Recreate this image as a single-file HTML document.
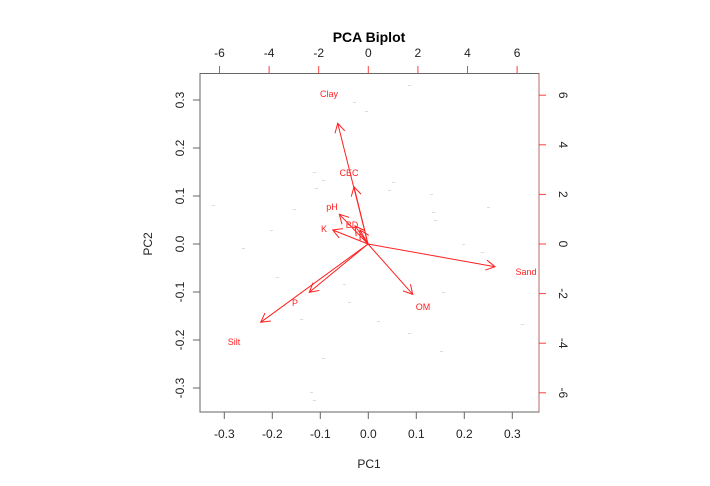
<!DOCTYPE html>
<html><head><meta charset="utf-8"><style>
html,body{margin:0;padding:0;background:#fff;}
svg{display:block;font-family:"Liberation Sans",Arial,sans-serif;}
</style></head><body>
<svg width="710" height="486" viewBox="0 0 710 486" xmlns="http://www.w3.org/2000/svg">
<defs>
<marker id="ah" markerWidth="12" markerHeight="12" refX="10" refY="6" orient="auto" markerUnits="userSpaceOnUse">
<path d="M1,1 L10,6 L1,11" fill="none" stroke="#ff2020" stroke-width="1"/>
</marker>
</defs>
<text x="369" y="42" font-size="14" font-weight="bold" text-anchor="middle">PCA Biplot</text>
<!-- faint points -->
<g fill="#ddd">
<rect x="408" y="85" width="3" height="1"/><rect x="353" y="102" width="3" height="1"/><rect x="365" y="111" width="3" height="1"/>
<rect x="313" y="172" width="3" height="1"/><rect x="322" y="180" width="3" height="1"/><rect x="315" y="188" width="3" height="1"/>
<rect x="392" y="182" width="3" height="1"/><rect x="388" y="190" width="3" height="1"/><rect x="430" y="194" width="3" height="1"/>
<rect x="212" y="205" width="3" height="1"/><rect x="293" y="209" width="3" height="1"/><rect x="432" y="212" width="3" height="1"/>
<rect x="434" y="220" width="3" height="1"/><rect x="487" y="207" width="3" height="1"/><rect x="242" y="248" width="3" height="1"/>
<rect x="462" y="244" width="3" height="1"/><rect x="481" y="252" width="3" height="1"/><rect x="276" y="277" width="3" height="1"/>
<rect x="343" y="284" width="3" height="1"/><rect x="442" y="292" width="3" height="1"/><rect x="348" y="302" width="3" height="1"/>
<rect x="300" y="319" width="3" height="1"/><rect x="377" y="321" width="3" height="1"/><rect x="408" y="333" width="3" height="1"/>
<rect x="521" y="324" width="3" height="1"/><rect x="440" y="351" width="3" height="1"/><rect x="322" y="358" width="3" height="1"/>
<rect x="310" y="392" width="3" height="1"/><rect x="313" y="400" width="3" height="1"/><rect x="270" y="230" width="3" height="1"/>
</g>
<!-- box -->
<rect x="200" y="73.5" width="339" height="338.5" fill="none" stroke="#666" stroke-width="1"/>
<line x1="539" y1="73.5" x2="539" y2="412" stroke="#b86a6a" stroke-width="1"/>
<!-- bottom axis -->
<g stroke="#666" stroke-width="1">
<line x1="224.3" y1="412" x2="224.3" y2="419"/><line x1="272.3" y1="412" x2="272.3" y2="419"/><line x1="320.3" y1="412" x2="320.3" y2="419"/><line x1="368.3" y1="412" x2="368.3" y2="419"/><line x1="416.3" y1="412" x2="416.3" y2="419"/><line x1="464.3" y1="412" x2="464.3" y2="419"/><line x1="512.3" y1="412" x2="512.3" y2="419"/>
<line x1="200" y1="388" x2="193" y2="388"/><line x1="200" y1="340" x2="193" y2="340"/><line x1="200" y1="292" x2="193" y2="292"/><line x1="200" y1="244" x2="193" y2="244"/><line x1="200" y1="196" x2="193" y2="196"/><line x1="200" y1="148" x2="193" y2="148"/><line x1="200" y1="100" x2="193" y2="100"/>
</g>
<g font-size="12" fill="#222" text-anchor="middle">
<text x="224.3" y="438">-0.3</text><text x="272.3" y="438">-0.2</text><text x="320.3" y="438">-0.1</text><text x="368.3" y="438">0.0</text><text x="416.3" y="438">0.1</text><text x="464.3" y="438">0.2</text><text x="512.3" y="438">0.3</text>
<text x="369" y="468">PC1</text>
</g>
<g font-size="12" fill="#222" text-anchor="middle">
<text transform="translate(184,388) rotate(-90)">-0.3</text><text transform="translate(184,340) rotate(-90)">-0.2</text><text transform="translate(184,292) rotate(-90)">-0.1</text><text transform="translate(184,244) rotate(-90)">0.0</text><text transform="translate(184,196) rotate(-90)">0.1</text><text transform="translate(184,148) rotate(-90)">0.2</text><text transform="translate(184,100) rotate(-90)">0.3</text>
<text transform="translate(152,244) rotate(-90)">PC2</text>
</g>
<!-- top axis -->
<g stroke="#ff4040" stroke-width="1">
<line x1="219.5" y1="73.5" x2="219.5" y2="66"/><line x1="269.1" y1="73.5" x2="269.1" y2="66"/><line x1="318.7" y1="73.5" x2="318.7" y2="66"/><line x1="368.3" y1="73.5" x2="368.3" y2="66"/><line x1="417.9" y1="73.5" x2="417.9" y2="66"/><line x1="467.5" y1="73.5" x2="467.5" y2="66"/><line x1="517.1" y1="73.5" x2="517.1" y2="66"/>
<line x1="539" y1="392.8" x2="546" y2="392.8"/><line x1="539" y1="343.2" x2="546" y2="343.2"/><line x1="539" y1="293.6" x2="546" y2="293.6"/><line x1="539" y1="244" x2="546" y2="244"/><line x1="539" y1="194.4" x2="546" y2="194.4"/><line x1="539" y1="144.8" x2="546" y2="144.8"/><line x1="539" y1="95.2" x2="546" y2="95.2"/>
</g>
<g font-size="12" fill="#222" text-anchor="middle">
<text x="219.5" y="57">-6</text><text x="269.1" y="57">-4</text><text x="318.7" y="57">-2</text><text x="368.3" y="57">0</text><text x="417.9" y="57">2</text><text x="467.5" y="57">4</text><text x="517.1" y="57">6</text>
<text transform="translate(559,392.8) rotate(90)">-6</text><text transform="translate(559,343.2) rotate(90)">-4</text><text transform="translate(559,293.6) rotate(90)">-2</text><text transform="translate(559,244) rotate(90)">0</text><text transform="translate(559,194.4) rotate(90)">2</text><text transform="translate(559,144.8) rotate(90)">4</text><text transform="translate(559,95.2) rotate(90)">6</text>
</g>
<!-- arrows -->
<g stroke="#ff2020" stroke-width="1" marker-end="url(#ah)">
<line x1="368" y1="244" x2="337.7" y2="123.3"/>
<line x1="368" y1="244" x2="354" y2="186.7"/>
<line x1="368" y1="244" x2="339.3" y2="214.3"/>
<line x1="368" y1="244" x2="355" y2="226"/>
<line x1="368" y1="244" x2="360" y2="230"/>
<line x1="368" y1="244" x2="332.7" y2="230"/>
<line x1="368" y1="244" x2="495" y2="266.7"/>
<line x1="368" y1="244" x2="412.7" y2="294.3"/>
<line x1="368" y1="244" x2="309.3" y2="292.3"/>
<line x1="368" y1="244" x2="260.7" y2="322.3"/>
</g>
<g font-size="9" fill="#ff2020" text-anchor="middle">
<text x="329" y="97">Clay</text><text x="349" y="176">CEC</text><text x="332" y="210">pH</text><text x="352" y="228">BD</text><text x="324" y="232">K</text>
<text x="526" y="275">Sand</text><text x="423" y="310">OM</text><text x="295" y="306">P</text><text x="234" y="345">Silt</text>
</g>
</svg>
</body></html>
